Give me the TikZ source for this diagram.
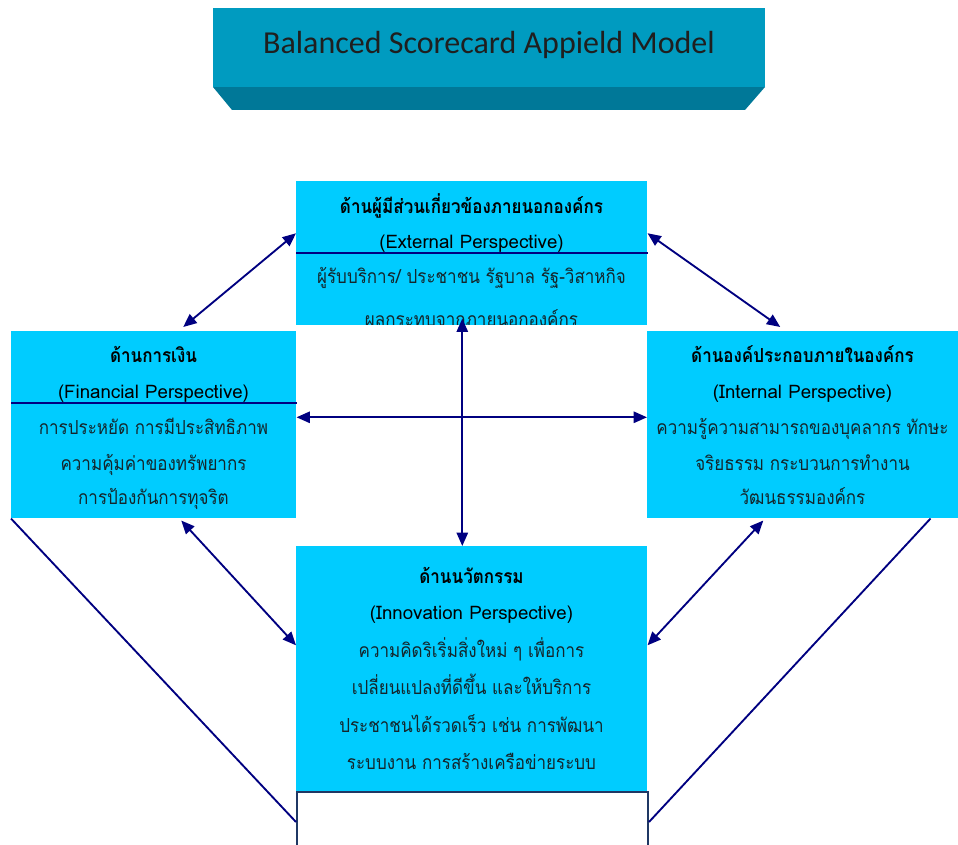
\documentclass[tikz,border=0pt]{standalone}
\usepackage{fontspec}
\setmainfont{Carlito}
\newfontfamily\thai[Script=Thai, FakeStretch=0.88]{Loma}
\newfontfamily\thaiwide[Script=Thai]{Loma}
\usetikzlibrary{arrows.meta}

\definecolor{panelcyan}{HTML}{00CCFF}
\definecolor{linknavy}{HTML}{000080}
\definecolor{bannerfront}{HTML}{009BC0}
\definecolor{bannerbase}{HTML}{007898}
\definecolor{framenavy}{HTML}{1F3864}
\definecolor{bodyink}{HTML}{14262C}

\tikzset{
  panel/.style={fill=panelcyan, draw=none, anchor=north west, inner sep=0pt},
  framebox/.style={fill=white, draw=framenavy, line width=1.5pt, anchor=north west, inner sep=0pt},
  headtext/.style={anchor=base, inner sep=0pt, text=black,
    font=\thai\bfseries\fontsize{14.5}{16}\selectfont},
  subtext/.style={anchor=base, inner sep=0pt, text=black,
    font=\thaiwide\fontsize{14}{16}\selectfont},
  bodytext/.style={anchor=base, inner sep=0pt, text=bodyink,
    font=\thai\fontsize{14.5}{16}\selectfont},
  rule/.style={draw=linknavy, line width=1.4pt},
  link/.style={draw=linknavy, line width=1.4pt,
    {Triangle[length=10pt,width=8.5pt]}-{Triangle[length=10pt,width=8.5pt]}},
  plainlink/.style={draw=linknavy, line width=1.4pt},
}

\begin{document}
\begin{tikzpicture}[x=0.75pt, y=-0.75pt]
\useasboundingbox (0,0) rectangle (958,845);

% title banner: front face and bevelled lower face
\fill[bannerbase] (213,87) -- (765,87) -- (745,110) -- (232,110) -- cycle;
\node[fill=bannerfront, anchor=north west, inner sep=0pt,
      minimum width=414pt, minimum height=59.25pt] (banner) at (213,8) {};
\node[font=\fontsize{24}{28}\selectfont, text=black!88] (title) at (489,45)
  {Balanced Scorecard Appield Model};

% perspective panels
\node[panel, minimum width=263.25pt, minimum height=108pt] (ext) at (296,181) {};
\node[panel, minimum width=213.75pt, minimum height=140.25pt] (fin) at (11,331) {};
\node[panel, minimum width=233.25pt, minimum height=140.25pt] (int) at (647,331) {};
\node[panel, minimum width=263.25pt, minimum height=183.75pt] (inno) at (296,546) {};
\node[framebox, minimum width=263.25pt, minimum height=45pt] (base) at (296,791) {};

% external perspective (the last line runs past the panel and is cut off)
\node[headtext] (extA) at (471.5,214) {ด้านผู้มีส่วนเกี่ยวข้องภายนอกองค์กร};
\node[subtext] (extB) at (471.5,249) {(External Perspective)};
\draw[rule] (ext.west |- 0,253) -- (ext.east |- 0,253);
\begin{scope}
  \clip (296,181) rectangle (647,325);
  \node[bodytext] (extC) at (471.5,284) {ผู้รับบริการ/ ประชาชน รัฐบาล รัฐ-วิสาหกิจ};
  \node[bodytext] (extD) at (471.5,327) {ผลกระทบจากภายนอกองค์กร};
\end{scope}

% financial perspective
\node[headtext] (finA) at (153.5,363) {ด้านการเงิน};
\node[subtext] (finB) at (153.5,398) {(Financial Perspective)};
\draw[rule] (fin.west |- 0,403) -- (fin.east |- 0,403);
\node[bodytext] (finC) at (153.5,435) {การประหยัด การมีประสิทธิภาพ};
\node[bodytext] (finD) at (153.5,470) {ความคุ้มค่าของทรัพยากร};
\node[bodytext] (finE) at (153.5,504) {การป้องกันการทุจริต};

% internal perspective
\node[headtext] (intA) at (802.5,363) {ด้านองค์ประกอบภายในองค์กร};
\node[subtext] (intB) at (802.5,398) {(Internal Perspective)};
\node[bodytext] (intC) at (802.5,435) {ความรู้ความสามารถของบุคลากร ทักษะ};
\node[bodytext] (intD) at (802.5,470) {จริยธรรม กระบวนการทำงาน};
\node[bodytext] (intE) at (802.5,504) {วัฒนธรรมองค์กร};

% innovation perspective
\node[headtext] (innoA) at (471.5,583) {ด้านนวัตกรรม};
\node[subtext] (innoB) at (471.5,619) {(Innovation Perspective)};
\node[bodytext] (innoC) at (471.5,657) {ความคิดริเริ่มสิ่งใหม่ ๆ เพื่อการ};
\node[bodytext] (innoD) at (471.5,694) {เปลี่ยนแปลงที่ดีขึ้น และให้บริการ};
\node[bodytext] (innoE) at (471.5,732) {ประชาชนได้รวดเร็ว เช่น การพัฒนา};
\node[bodytext] (innoF) at (471.5,769) {ระบบงาน การสร้างเครือข่ายระบบ};

% two-way links between perspectives
\draw[link] ([xshift=22.1pt, yshift=3pt]fin.north) -- ([yshift=15pt]ext.west);
\draw[link] ([yshift=15pt]ext.east) -- ([xshift=-16.9pt, yshift=3pt]int.north);
\draw[link] ([yshift=5.6pt]fin.east) -- ([yshift=5.6pt]int.west);
\draw[link] ([xshift=-7.1pt, yshift=5.2pt]ext.south) -- ([xshift=-7.1pt]inno.north);
\draw[link] ([xshift=20.6pt, yshift=-1.5pt]fin.south) -- ([yshift=17.6pt]inno.west);
\draw[link] ([xshift=-29.6pt, yshift=-1.5pt]int.south) -- ([yshift=17.6pt]inno.east);

% outer lines down to the base frame
\draw[plainlink] (fin.south west) -- (base.west);
\draw[plainlink] ([xshift=-21pt]int.south east) -- (base.east);
\end{tikzpicture}
\end{document}
